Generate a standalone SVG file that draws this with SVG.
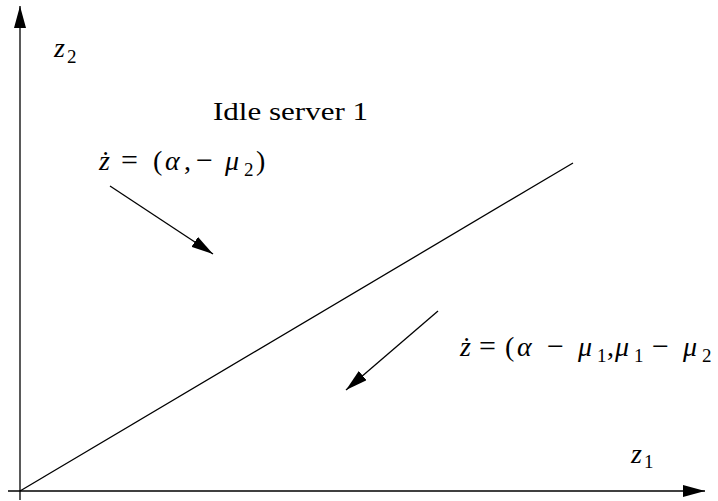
<svg xmlns="http://www.w3.org/2000/svg" width="718" height="501" viewBox="0 0 718 501">
<style>
text{font-family:'Liberation Serif','DejaVu Serif',serif;font-size:28px;fill:#000}
.ln{stroke:#000;stroke-width:1.3;fill:none}
.m{font-style:italic}
.s{font-size:19px;font-style:normal}
.o{font-size:30px}
</style>
<defs>
<marker id="ah" markerWidth="24" markerHeight="12" refX="22" refY="6" orient="auto" markerUnits="userSpaceOnUse">
<path d="M0,0 L22,6 L0,12 Z" fill="#000"/>
</marker>
</defs>
<g id="axes">
<line class="ln" x1="20" y1="500" x2="20" y2="6" marker-end="url(#ah)"/>
<line class="ln" x1="8" y1="491" x2="705" y2="491" marker-end="url(#ah)"/>
</g>
<g id="boundary">
<line class="ln" x1="20" y1="491" x2="573" y2="163"/>
</g>
<g id="connectors">
<line class="ln" x1="110" y1="186" x2="213" y2="254" marker-end="url(#ah)"/>
<line class="ln" x1="438" y1="311" x2="346" y2="390" marker-end="url(#ah)"/>
</g>
<g id="labels">
<text x="54" y="57"><tspan class="m">z</tspan><tspan class="s" x="67" y="63">2</tspan></text>
<text x="631" y="463"><tspan class="m">z</tspan><tspan class="s" x="644" y="468">1</tspan></text>
<text x="213" y="120" style="font-size:25px" textLength="155" lengthAdjust="spacingAndGlyphs">Idle server 1</text>
<text y="170"><tspan class="m" x="99">ż</tspan><tspan class="o" x="121">=</tspan><tspan x="153">(</tspan><tspan class="m" x="165">α</tspan><tspan x="184">,</tspan><tspan class="o" x="196">−</tspan><tspan class="m" x="225">μ</tspan><tspan class="s" x="244" y="176">2</tspan><tspan x="256" y="170">)</tspan></text>
<text y="356"><tspan class="m" x="460">ż</tspan><tspan class="o" x="479">=</tspan><tspan x="505">(</tspan><tspan class="m" x="517">α</tspan><tspan class="o" x="547">−</tspan><tspan class="m" x="578">μ</tspan><tspan class="s" x="597" y="362">1</tspan><tspan x="607" y="356">,</tspan><tspan class="m" x="615">μ</tspan><tspan class="s" x="634" y="362">1</tspan><tspan class="o" x="652" y="356">−</tspan><tspan class="m" x="683">μ</tspan><tspan class="s" x="702" y="362">2</tspan></text>
</g>
</svg>
